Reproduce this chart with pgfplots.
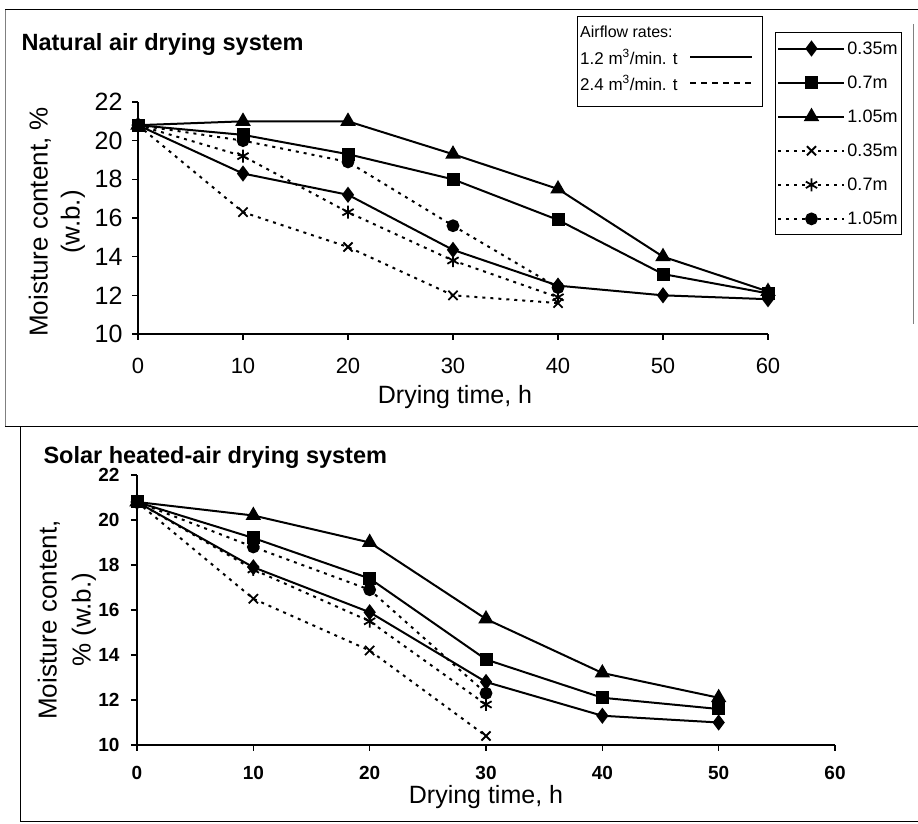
\documentclass[border=0pt]{standalone}
\usepackage{fontspec}
\setmainfont{Liberation Sans}
\usepackage{pgfplots}
\pgfplotsset{compat=1.18}
\newcommand{\fs}[1]{\fontsize{#1}{#1}\selectfont}
\pgfplotsset{
  base/.style={
    scale only axis, axis lines=left, axis line style={line width=2pt,-},
    tick align=outside, major tick length=6pt,
    every tick/.style={black,line width=1.5pt},
    xmin=0,xmax=60,ymin=10,ymax=22, xtick={0,10,...,60}, ytick={10,12,...,22},
    /pgf/number format/assume math mode=true,
    clip=false, anchor=south west,
  },
  sol/.style={black, line width=2pt, mark options={solid, fill=black}},
  dsh/.style={black, line width=2pt, dash pattern=on 3pt off 5pt, mark options={solid, line width=1.8pt, fill=black}},
}
\begin{document}
\begin{tikzpicture}[x=1pt,y=1pt]
% frames
\draw[line width=1pt] (5,814) -- (918,814);
\draw[line width=0.6pt, gray] (5,814) -- (5,397);
\draw[line width=1pt] (5,397) -- (918,397);
\draw[line width=0.8pt] (20,397) -- (20,2);
\draw[line width=1pt] (20,2) -- (918,2);
\draw[line width=0.5pt, gray] (913,800) -- (913,500);

\begin{axis}[base, at={(138pt,490pt)}, width=630pt, height=232pt,
  xticklabel style={font=\fs{22}, yshift=-15pt},
  yticklabel style={font=\fs{25}, xshift=-6pt},
  legend style={at={(axis description cs:1.0111,1.3017)}, anchor=north west,
    draw=black, line width=1pt, fill=white, font=\fs{18}, row sep=16pt,
    inner xsep=2pt, inner ysep=7pt, legend cell align=left},
  legend image code/.code={\draw[mark repeat=2,mark phase=2,#1] plot coordinates {(0pt,0pt) (33pt,0pt) (66pt,0pt)};},
]
\addplot[sol, mark=diamond*, mark size=6.5pt] coordinates {(0,20.8)(10,18.3)(20,17.2)(30,14.35)(40,12.5)(50,12.0)(60,11.8)};
\addlegendentry{0.35m}
\addplot[sol, mark=square*, mark size=5.5pt] coordinates {(0,20.8)(10,20.3)(20,19.3)(30,18.0)(40,15.9)(50,13.1)(60,12.1)};
\addlegendentry{0.7m}
\addplot[sol, mark=triangle*, mark size=7pt] coordinates {(0,20.8)(10,21.0)(20,21.0)(30,19.3)(40,17.5)(50,14.0)(60,12.2)};
\addlegendentry{1.05m}
\addplot[dsh, mark=x, mark size=6.5pt] coordinates {(0,20.8)(10,16.3)(20,14.5)(30,12.0)(40,11.6)};
\addlegendentry{0.35m}
\addplot[dsh, mark=asterisk, mark size=6.5pt] coordinates {(0,20.8)(10,19.2)(20,16.3)(30,13.8)(40,11.9)};
\addlegendentry{0.7m}
\addplot[dsh, mark=*, mark size=5.5pt] coordinates {(0,20.8)(10,20.0)(20,18.9)(30,15.6)(40,12.4)};
\addlegendentry{1.05m}
\end{axis}

\begin{axis}[base, at={(137pt,79pt)}, width=698pt, height=270pt,
  xticklabel style={font=\bfseries\fs{19}, yshift=-12pt},
  yticklabel style={font=\bfseries\fs{19}, xshift=-8pt},
]
\addplot[sol, mark=diamond*, mark size=6.5pt] coordinates {(0,20.8)(10,17.9)(20,15.9)(30,12.8)(40,11.3)(50,11.0)};
\addplot[sol, mark=square*, mark size=5.5pt] coordinates {(0,20.8)(10,19.2)(20,17.4)(30,13.8)(40,12.1)(50,11.6)};
\addplot[sol, mark=triangle*, mark size=7pt] coordinates {(0,20.8)(10,20.2)(20,19.0)(30,15.6)(40,13.2)(50,12.1)};
\addplot[dsh, mark=x, mark size=6.5pt] coordinates {(0,20.8)(10,16.5)(20,14.2)(30,10.4)};
\addplot[dsh, mark=asterisk, mark size=6.5pt] coordinates {(0,20.8)(10,17.8)(20,15.5)(30,11.8)};
\addplot[dsh, mark=*, mark size=5.5pt] coordinates {(0,20.8)(10,18.8)(20,16.9)(30,12.3)};
\end{axis}

% labels
\node[rotate=90, align=center, font=\fontsize{26}{32}\selectfont] at (57,602) {Moisture content, \%\\(w.b.)};
\node[rotate=90, align=center, font=\fontsize{26}{34}\selectfont] at (67,204) {Moisture content,\\\% (w.b.)};
\node[font=\fs{25}] at (455,427) {Drying time, h};
\node[font=\fs{25}] at (486,27) {Drying time, h};
\node[anchor=west, font=\bfseries\fs{23.5}] at (18,780) {Natural air drying system};
\node[anchor=west, font=\bfseries\fs{23.5}] at (40,367) {Solar heated-air drying system};

% airflow legend
\draw[line width=1pt] (577,807) rectangle (762,717);
\node[anchor=west, font=\fs{16}, inner sep=1pt] at (579,792) {Airflow rates:};
\node[anchor=west, font=\fs{17}, inner sep=1pt] at (579,767) {1.2 m\textsuperscript{3}/min. t};
\draw[line width=2pt] (690,767) -- (752,767);
\node[anchor=west, font=\fs{17}, inner sep=1pt] at (579,741) {2.4 m\textsuperscript{3}/min. t};
\draw[line width=1.5pt, dash pattern=on 6pt off 5pt] (690,741) -- (752,741);

\pgfresetboundingbox
\path[use as bounding box] (0,0) rectangle (918,824);
\end{tikzpicture}
\end{document}
